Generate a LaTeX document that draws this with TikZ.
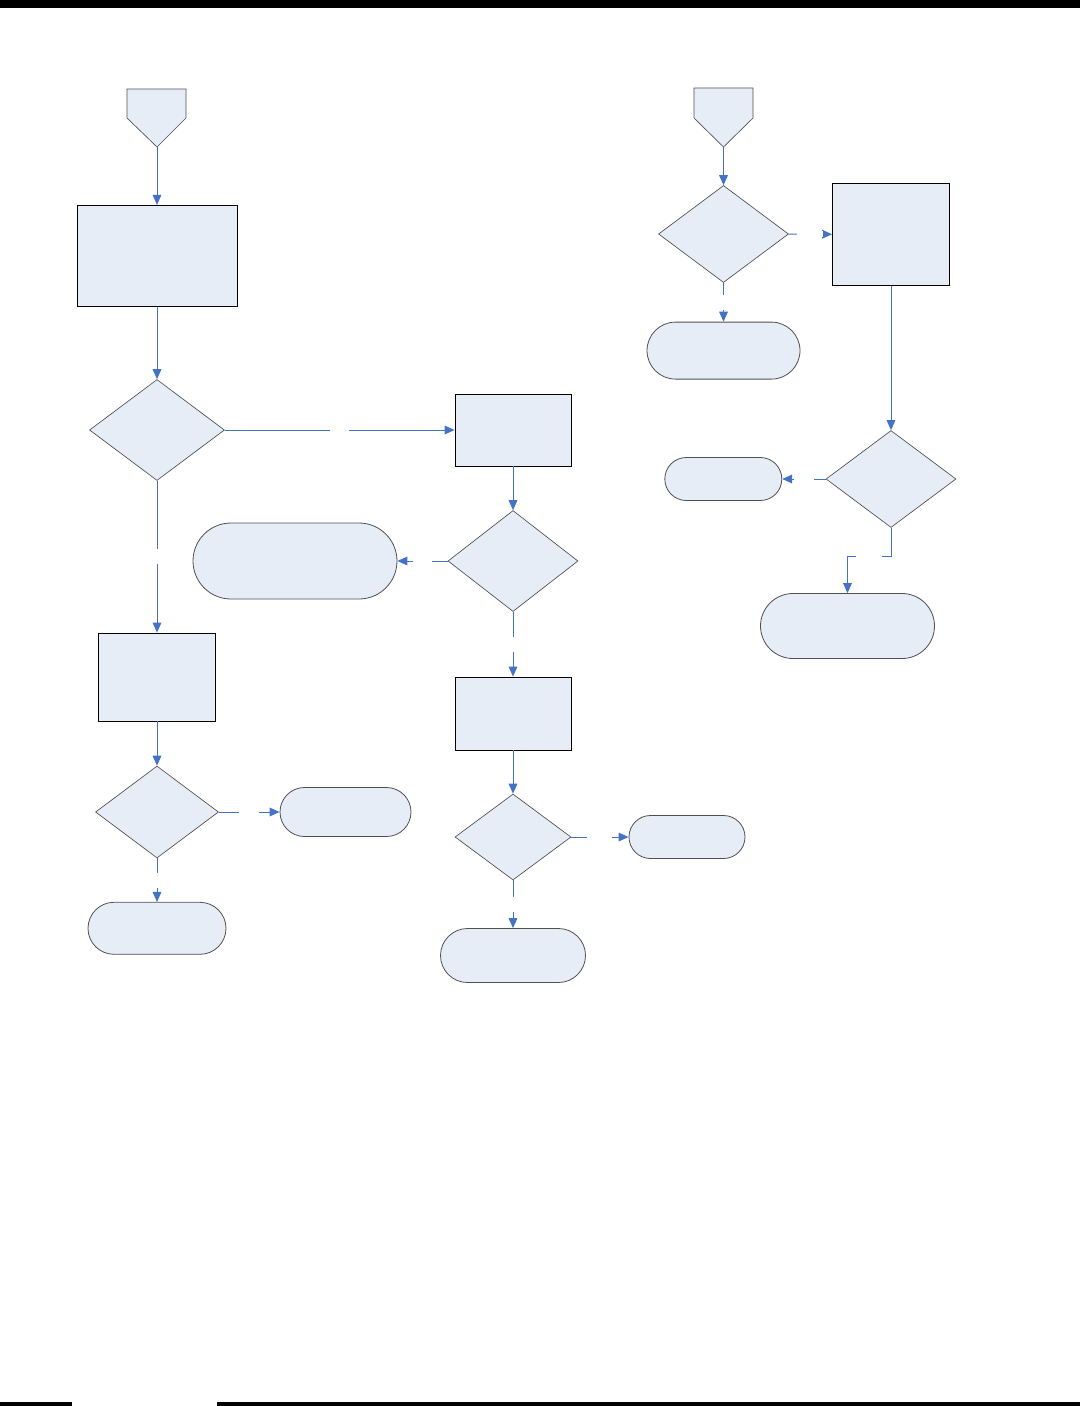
\documentclass[tikz,border=0pt]{standalone}
\usetikzlibrary{shapes.geometric,shapes.misc,arrows.meta}
\definecolor{boxfill}{HTML}{E6EDF7}
\definecolor{conn}{HTML}{4472C4}
\definecolor{edgegray}{HTML}{505050}
\def\pxu{0.75pt}
\tikzset{
  procbox/.style={draw=black, line width=0.6pt, fill=boxfill, rectangle, inner sep=0pt},
  decis/.style={draw=edgegray, line width=0.5pt, fill=boxfill, diamond, inner sep=0pt},
  termin/.style={draw=edgegray, line width=0.6pt, fill=boxfill, rounded rectangle, inner sep=0pt},
  offpage/.style={draw=edgegray, line width=0.5pt, fill=boxfill},
  conarrow/.style={draw=conn, line width=0.75pt, -{Triangle[length=7.5pt,width=6.5pt]}},
  hgap/.style={fill=white, inner sep=0pt, minimum width=#1*\pxu, minimum height=4pt},
  vgap/.style={fill=white, inner sep=0pt, minimum height=#1*\pxu, minimum width=4pt},
  sz/.style n args={2}{minimum width=#1*\pxu, minimum height=#2*\pxu}
}
\begin{document}
\begin{tikzpicture}[x=0.75pt, y=-0.75pt]
\useasboundingbox (0,0) rectangle (1080,1406);
\fill[white] (0,0) rectangle (1080,1406);
% page bars
\fill[black] (0,0) rectangle (1080,8);
\fill[black] (0,1402) rectangle (72,1406);
\fill[black] (217,1402) rectangle (1080,1406);

% off-page connectors
\filldraw[offpage] (127,89) -- (186,89) -- (186,118) -- (157,147) -- (127,118) -- cycle;
\coordinate (p1) at (157,147);
\filldraw[offpage] (694,88) -- (753,88) -- (753,118) -- (723.5,147) -- (694,118) -- cycle;
\coordinate (p2) at (723.5,147);

% left column
\node[procbox, sz={160}{101}] (box1) at (157,255.75) {};
\node[decis, sz={135}{101}] (d1) at (157,430) {};
\node[procbox, sz={116}{72}] (box2) at (513,430) {};
\node[decis, sz={130}{101}] (d2) at (513,561) {};
\node[termin, sz={204}{76}] (t1) at (295,561) {};
\node[procbox, sz={117}{88}] (box3) at (157,677) {};
\node[procbox, sz={116}{73}] (box4) at (513,713.5) {};
\node[decis, sz={123}{92}] (d3) at (157,812) {};
\node[termin, sz={131}{49}] (t3) at (345.5,812) {};
\node[termin, sz={138}{52}] (t2) at (157,928.3) {};
\node[decis, sz={116}{86}] (d4) at (513,837) {};
\node[termin, sz={116}{43}] (t4) at (687,837) {};
\node[termin, sz={145}{54}] (t5) at (513,955.5) {};

% right column
\node[decis, sz={130}{97}] (d5) at (723.5,234) {};
\node[procbox, sz={117}{102}] (box5) at (891,234.3) {};
\node[termin, sz={153}{57}] (t6) at (723.5,350.6) {};
\node[decis, sz={130}{97}] (d6) at (891,479) {};
\node[termin, sz={117}{43}] (t7) at (723.3,479) {};
\node[termin, sz={174}{65}] (t8) at (847.5,626) {};

% connectors
\draw[conarrow] (p1) -- (box1.north);
\draw[conarrow] (box1.south) -- (d1.north);
\draw[conarrow] (d1.east) -- node[hgap=19]{} (box2.west);
\draw[conarrow] (d1.south) -- node[vgap=15]{} (box3.north);
\draw[conarrow] (box2.south) -- (d2.north);
\draw[conarrow] (d2.west) -- node[hgap=19]{} (t1.east);
\draw[conarrow] (d2.south) -- node[vgap=15]{} (box4.north);
\draw[conarrow] (box3.south) -- (d3.north);
\draw[conarrow] (d3.east) -- node[hgap=20]{} (t3.west);
\draw[conarrow] (d3.south) -- node[vgap=15]{} (t2.north);
\draw[conarrow] (box4.south) -- (d4.north);
\draw[conarrow] (d4.east) -- node[hgap=25]{} (t4.west);
\draw[conarrow] (d4.south) -- node[vgap=15]{} (t5.north);

\draw[conarrow] (p2) -- (d5.north);
\draw[conarrow] (d5.east) -- node[hgap=26]{} (box5.west);
\draw[conarrow] (d5.south) -- node[vgap=15]{} (t6.north);
\draw[conarrow] (box5.south) -- (d6.north);
\draw[conarrow] (d6.west) -- node[hgap=20]{} (t7.east);
\draw[conarrow] (d6.south) -- ++(0,29) -| node[pos=0.25, hgap=26]{} (t8.north);
\end{tikzpicture}
\end{document}
